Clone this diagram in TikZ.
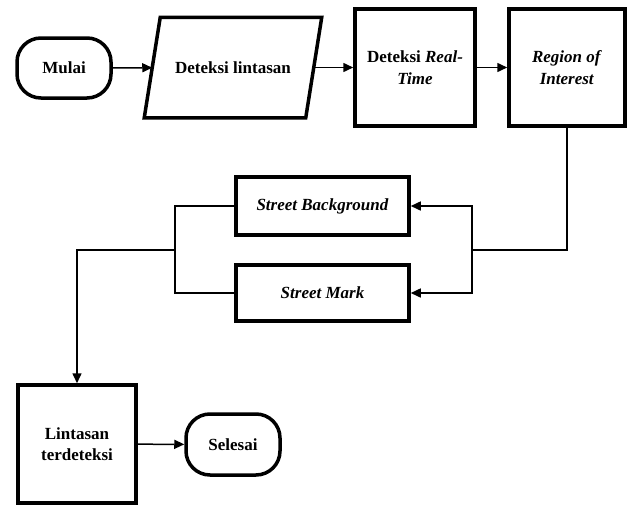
\documentclass[tikz,border=0pt]{standalone}
\usepackage{fontspec}
\setmainfont{Liberation Serif}
\usetikzlibrary{arrows.meta}

\tikzset{
  teks/.style={align=center, inner sep=2pt, outer sep=1.75pt,
    font=\fontsize{17}{21.5}\selectfont\bfseries},
  proses/.style={teks, draw, line width=3.5pt},
  terminal/.style={proses, rounded corners=24pt},
  garis/.style={line width=1.5pt},
  alur/.style={garis, -{Triangle[length=10pt,width=9pt]}}
}

\begin{document}
\begin{tikzpicture}[x=1pt, y=-1pt]
			%%%%% START %%%%%
			\useasboundingbox (0, 0) rectangle (634, 506);
			
			\node[terminal, minimum width=94, minimum height=60] (mulai) at (64, 68) {Mulai};
			\node[teks, minimum width=158, minimum height=97] (deteksi) at (233, 67.5) {Deteksi lintasan};
			\draw[line width=3.5pt] ([xshift=8pt]deteksi.north west) -- ([xshift=8pt]deteksi.north east)
			  -- ([xshift=-8pt]deteksi.south east) -- ([xshift=-8pt]deteksi.south west) -- cycle;
			\node[proses, minimum width=120, minimum height=117] (realtime) at (415, 67.5) {Deteksi \textit{Real-}\\\textit{Time}};
			\node[proses, minimum width=116, minimum height=117] (roi) at (567, 67.5) {\textit{Region of}\\\textit{Interest}};
			
			\node[proses, minimum width=173, minimum height=58] (background) at (322.5, 206) {\textit{Street Background}};
			\node[proses, minimum width=173, minimum height=56] (mark) at (322.5, 293) {\textit{Street Mark}};
			
			\node[proses, minimum width=118, minimum height=118] (terdeteksi) at (77, 444) {Lintasan\\terdeteksi};
			\node[terminal, minimum width=94, minimum height=61] (selesai) at (233, 444.5) {Selesai};
			
			\coordinate (cabang) at (472, 250);
			\coordinate (gabung) at (175, 250);
			
			\draw[alur] (mulai) -- (deteksi);
			\draw[alur] (deteksi) -- (realtime);
			\draw[alur] (realtime) -- (roi);
			
			\draw[garis] (roi.south) |- (cabang);
			\draw[alur] (cabang) |- (background.east);
			\draw[alur] (cabang) |- (mark.east);
			
			\draw[garis] (background.west) -| (gabung);
			\draw[garis] (mark.west) -| (gabung);
			\draw[alur] (gabung) -| (terdeteksi.north);
			
			\draw[alur] (terdeteksi) -- (selesai);
			%%%%% END %%%%%
\end{tikzpicture}
\end{document}
